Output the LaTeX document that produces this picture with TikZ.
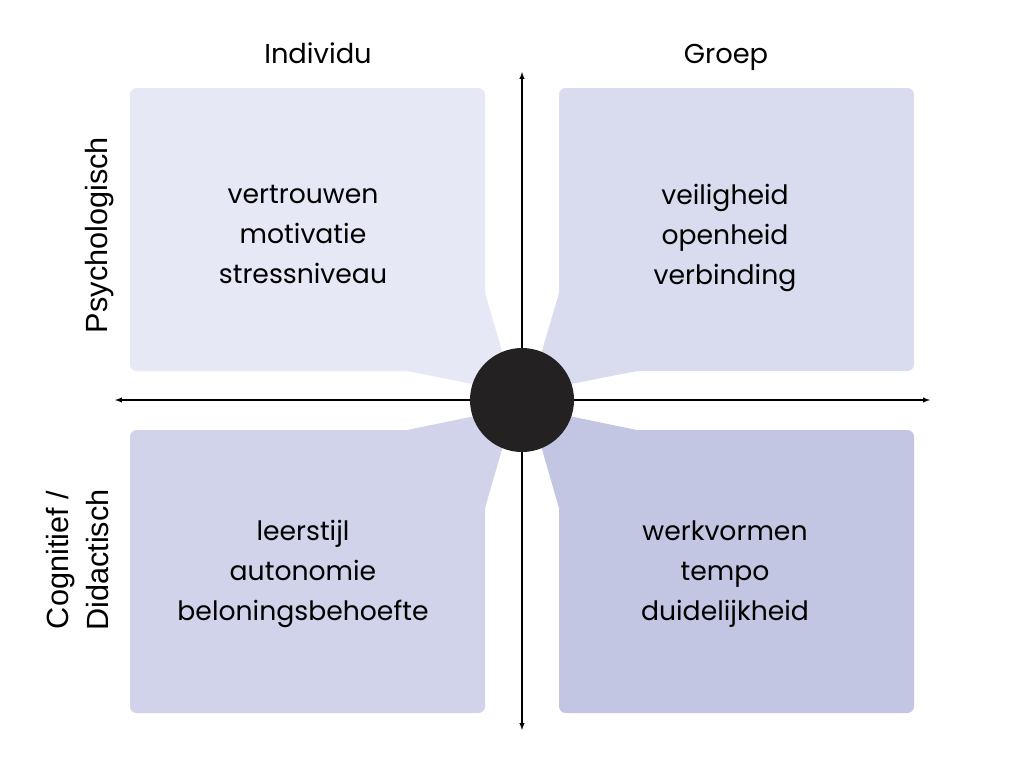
\documentclass[tikz,border=0pt]{standalone}
\usepackage{fontspec}
\setmainfont{Poppins}
\newfontfamily\sidefont{Liberation Sans}
\usetikzlibrary{positioning}

\definecolor{quadA}{RGB}{230,232,245}
\definecolor{quadB}{RGB}{217,220,238}
\definecolor{quadC}{RGB}{208,211,234}
\definecolor{quadD}{RGB}{195,198,227}
\definecolor{hubfill}{RGB}{35,33,34}

\begin{document}
\begin{tikzpicture}[x=0.75pt,y=-0.75pt,>=latex,
  words/.style={align=center,font=\fontsize{20}{30}\selectfont},
  head/.style={anchor=base,font=\fontsize{20.5}{24}\selectfont},
  side/.style={align=center,rotate=90,font=\sidefont\fontsize{23}{30}\selectfont}]
\useasboundingbox (0,0) rectangle (1024,768);

% the four boxes with their tails
\coordinate (hubc) at (522,400);
\fill[quadA,rounded corners=5pt] (130,88) rectangle (485,371);
\fill[quadA] (485,293) -- (514,392) -- (407,371) -- (485,371) -- cycle;
\fill[quadB,rounded corners=5pt] (559,88) rectangle (914,371);
\fill[quadB] (559,293) -- (530,392) -- (637,371) -- (559,371) -- cycle;
\fill[quadC,rounded corners=5pt] (130,430) rectangle (485,713);
\fill[quadC] (485,508) -- (514,408) -- (407,430) -- (485,430) -- cycle;
\fill[quadD,rounded corners=5pt] (559,430) rectangle (914,713);
\fill[quadD] (559,508) -- (530,408) -- (637,430) -- (559,430) -- cycle;

% the axes
\coordinate (west) at (115,400);
\coordinate (east) at (930,400);
\coordinate (north) at (522,72);
\coordinate (south) at (522,730);
\draw[<->,line width=0.8pt] (west) -- (east);
\draw[<->,line width=0.8pt] (north) -- (south);

% the circle in the middle
\node[circle,fill=hubfill,minimum size=78pt,inner sep=0pt] (hub) at (hubc) {};

% the texts
\node[words] (indpsy) at (303,234) {vertrouwen\\motivatie\\stressniveau};
\node[words] (grppsy) at (725,238) {veiligheid\\openheid\\verbinding};
\node[words] (indcog) at (303,574) {leerstijl\\autonomie\\beloningsbehoefte};
\node[words] (grpcog) at (725,574) {werkvormen\\tempo\\duidelijkheid};
\node[head] (ind) at (318,63) {Individu};
\node[head] (grp) at (726,63) {Groep};
\node[side] (psy) at (100,235) {Psychologisch};
\node[side] (cog) at (78,560) {Cognitief /\\Didactisch};
\end{tikzpicture}
\end{document}
